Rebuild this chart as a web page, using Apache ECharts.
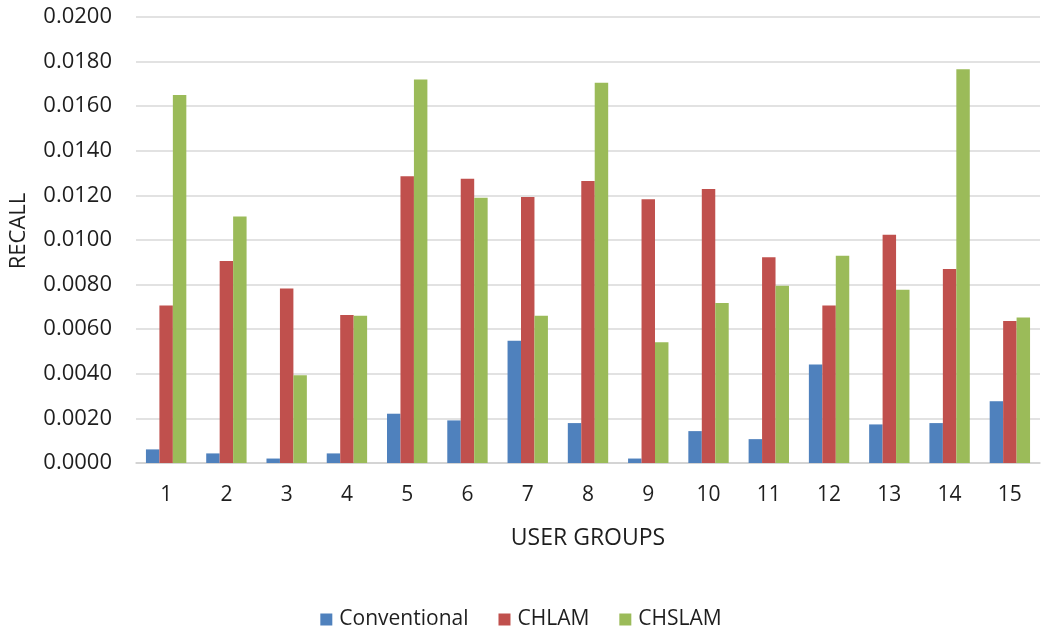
<!DOCTYPE html>
<html>
<head>
<meta charset="utf-8">
<script src="https://cdn.jsdelivr.net/npm/echarts@6/dist/echarts.min.js"></script>
<style>
  html, body { margin: 0; padding: 0; background: #fff; }
  #chart { width: 1042px; height: 634px; }
</style>
</head>
<body>
<div id="chart"></div>
<script>
// Recall per user group for three recommendation approaches
const groups = ['1', '2', '3', '4', '5', '6', '7', '8', '9', '10', '11', '12', '13', '14', '15'];
const conventional = [0.00061, 0.00043, 0.00020, 0.00043, 0.00221, 0.00191, 0.00548, 0.00179, 0.00020, 0.00143, 0.00107, 0.00442, 0.00173, 0.00179, 0.00277];
const chlam        = [0.00706, 0.00906, 0.00782, 0.00664, 0.01286, 0.01275, 0.01193, 0.01265, 0.01183, 0.01229, 0.00923, 0.00706, 0.01023, 0.00870, 0.00637];
const chslam       = [0.01650, 0.01105, 0.00394, 0.00660, 0.01720, 0.01189, 0.00660, 0.01705, 0.00541, 0.00718, 0.00795, 0.00929, 0.00777, 0.01766, 0.00653];

const font = 'Open Sans';
const textColor = '#1e1e1e';

const chart = echarts.init(document.getElementById('chart'), null, { renderer: 'canvas' });
chart.setOption({
  animation: false,
  color: ['#4F81BD', '#C0504D', '#9BBB59'],
  textStyle: { fontFamily: font },
  grid: { left: 136, right: 2, top: 17, bottom: 171, containLabel: false },
  legend: {
    bottom: -1,
    left: 'center',
    itemWidth: 12,
    itemHeight: 12,
    itemGap: 30,
    icon: 'rect',
    textStyle: { fontFamily: font, fontSize: 21, color: textColor, padding: [0, 0, 0, 2] },
    data: ['Conventional', 'CHLAM', 'CHSLAM']
  },
  xAxis: {
    type: 'category',
    data: groups,
    name: 'USER GROUPS',
    nameLocation: 'middle',
    nameGap: 64,
    nameTextStyle: { fontFamily: font, fontSize: 23, color: textColor },
    axisLine: { show: true, lineStyle: { color: '#d0d0d0', width: 1.5 } },
    axisTick: { show: false },
    axisLabel: { fontFamily: font, fontSize: 21, color: textColor, margin: 22 }
  },
  yAxis: {
    type: 'value',
    min: 0,
    max: 0.02,
    interval: 0.002,
    name: 'RECALL',
    nameLocation: 'middle',
    nameGap: 106,
    nameRotate: 90,
    nameTextStyle: { fontFamily: font, fontSize: 22, color: textColor, padding: [0, 0, 0, 18] },
    axisLine: { show: false },
    axisTick: { show: false },
    axisLabel: {
      fontFamily: font, fontSize: 22, color: textColor, margin: 24,
      formatter: v => v.toFixed(4)
    },
    splitLine: { lineStyle: { color: '#d9d9d9', width: 1.5 } }
  },
  series: [
    { name: 'Conventional', type: 'bar', data: conventional, barGap: '0%', barCategoryGap: '33%' },
    { name: 'CHLAM', type: 'bar', data: chlam, barGap: '0%', barCategoryGap: '33%' },
    { name: 'CHSLAM', type: 'bar', data: chslam, barGap: '0%', barCategoryGap: '33%' }
  ]
});
</script>
</body>
</html>
